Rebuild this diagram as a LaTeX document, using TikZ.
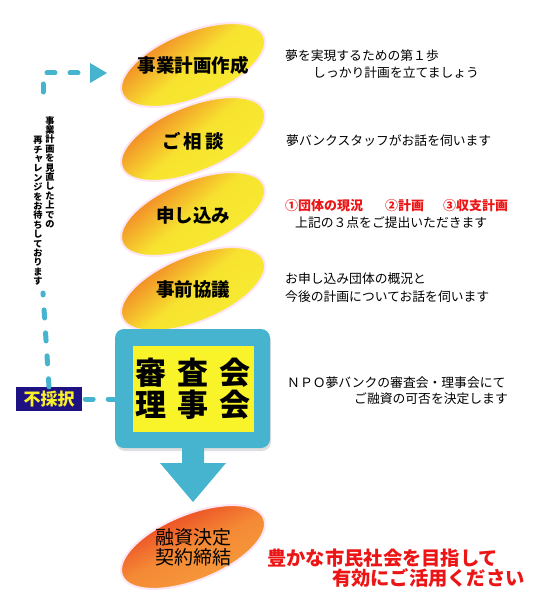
\documentclass[tikz,border=0pt]{standalone}
\usepackage{fontspec}
\newfontfamily\jp{Noto Sans CJK JP}
\usetikzlibrary{shapes.geometric,arrows.meta,shadows}
\definecolor{boxblue}{RGB}{70,180,206}
\definecolor{elly}{RGB}{247,236,48}
\definecolor{ello}{RGB}{246,160,42}
\definecolor{ellr}{RGB}{240,100,36}
\definecolor{finO}{RGB}{247,160,60}
\definecolor{finR}{RGB}{232,48,28}
\definecolor{boardyellow}{RGB}{249,244,42}
\definecolor{rejnavy}{RGB}{30,18,130}
\definecolor{rejyellow}{RGB}{248,240,40}
\definecolor{txtred}{RGB}{236,20,20}
\begin{document}
\begin{tikzpicture}[x=1pt,y=-1pt,
  blob/.style={ellipse, minimum width=153pt, minimum height=66pt, inner sep=0pt,
    rotate=22, draw=magenta!10, line width=2pt,
    top color=elly, bottom color=ellr, middle color=elly!88!ello, shading angle=-140},
  finblob/.style={ellipse, minimum width=153pt, minimum height=66pt, inner sep=0pt,
    rotate=22, draw=magenta!10, line width=2pt,
    top color=finO, bottom color=finR, middle color=finO!80!finR, shading angle=-155},
  blobtext/.style={font=\jp\bfseries\fontsize{18.5}{19}\selectfont, inner sep=0pt},
  note/.style={font=\jp\fontsize{12.8}{15}\selectfont, anchor=base west, inner sep=0pt},
  rednote/.style={font=\jp\bfseries\fontsize{13}{15}\selectfont, text=txtred, anchor=base west, inner sep=0pt},
  bigred/.style={font=\jp\bfseries\fontsize{19.3}{20}\selectfont, text=txtred, anchor=base west, inner sep=0pt},
  vtext/.style={font=\jp\bfseries\fontsize{9.2}{9.4}\selectfont, align=center, inner sep=0pt, anchor=north},
  dashline/.style={draw=boxblue, line width=5pt, line cap=round, dash pattern=on 8pt off 15pt}
]
\fill[white] (0,0) rectangle (540,615);
\useasboundingbox (0,0) rectangle (540,615);

% ellipses
\node[blob] (e1) at (193,65) {};
\node[blob] (e2) at (193,139) {};
\node[blob] (e3) at (193,214) {};
\node[blob] (e4) at (193,289) {};

\node[blobtext] (t1) at (e1.center) {事業計画作成};
\node[blobtext] (t2) at ([yshift=-2pt]e2.center) {ご\hspace{3pt}相\hspace{3pt}談};
\node[blobtext] (t3) at ([yshift=-1pt]e3.center) {申し込み};
\node[blobtext] (t4) at (e4.center) {事前協議};

% board
\node[fill=boxblue, rounded corners=9pt, minimum width=155pt, minimum height=119pt,
  drop shadow={opacity=0.25, shadow xshift=1pt, shadow yshift=-3pt}] (board) at (192.5,388.5) {};
\node[fill=boardyellow, minimum width=121pt, minimum height=86pt, inner sep=0pt] (inner) at (193.5,389) {};
\node[font=\jp\bfseries\fontsize{31}{32}\selectfont, align=center, inner sep=0pt] (boardtext) at (193,389)
  {審\hspace{11pt}査\hspace{11pt}会\\理\hspace{11pt}事\hspace{11pt}会};

% big down arrow
\fill[boxblue] (182,447) -- (182,463) -- (160,463) -- (193,502) -- (226,463) -- (204,463) -- (204,447) -- cycle;

% final ellipse
\node[finblob] (e5) at (193,547) {};
\node[font=\jp\fontsize{19}{19.5}\selectfont, align=center, inner sep=0pt] (t5) at ([yshift=-0.5pt]e5.center) {融資決定\\契約締結};

% reject label and dashed loop
\node[fill=rejnavy, text=rejyellow, font=\jp\bfseries\fontsize{17}{18}\selectfont,
  minimum width=66pt, minimum height=24pt, inner sep=0pt] (reject) at (49,399) {不採択};
\coordinate (vtop) at (43,92);
\coordinate (vbot) at (43,293);
\coordinate (corner) at (43,73);
\coordinate (tip) at (107,73);
\draw[dashline] (reject.north) -- (vbot);
\draw[dashline] (vtop) -- (corner) -- (90,73);
\fill[boxblue] (90,63) -- (tip) -- (90,83) -- cycle;
\draw[dashline] ([xshift=3pt]reject.east) -- (board.west |- reject.east);

\node[vtext] (vt1) at (50,116) {事\\業\\計\\画\\を\\見\\直\\し\\た\\上\\で\\の};
\node[vtext] (vt2) at (38,136) {再\\チ\\\hspace*{2pt}\raisebox{1pt}{ャ}\\レ\\ン\\ジ\\を\\お\\待\\ち\\し\\て\\お\\り\\ま\\す};

% right notes
\node[note] (n1a) at (285,61) {夢を実現するための第１歩};
\node[note] (n1b) at (313,78) {しっかり計画を立てましょう};
\node[note] (n2) at (286,145) {夢バンクスタッフがお話を伺います};
\node[rednote] (n3a) at (285,210) {①団体の現況};
\node[rednote] (n3c) at (385,210) {②計画};
\node[rednote] (n3d) at (443,210) {③収支計画};
\node[note] (n3b) at (295,227) {上記の３点をご提出いただきます};
\node[note] (n4a) at (285,283) {お申し込み団体の概況と};
\node[note] (n4b) at (285,301) {今後の計画についてお話を伺います};
\node[note] (n5a) at (287,387) {ＮＰＯ夢バンクの審査会・理事会にて};
\node[note] (n5b) at (354,403) {ご融資の可否を決定します};

\node[bigred] (r1) at (267,565) {豊かな市民社会を目指して};
\node[bigred] (r2) at (332,585) {有効にご活用ください};
\end{tikzpicture}
\end{document}
